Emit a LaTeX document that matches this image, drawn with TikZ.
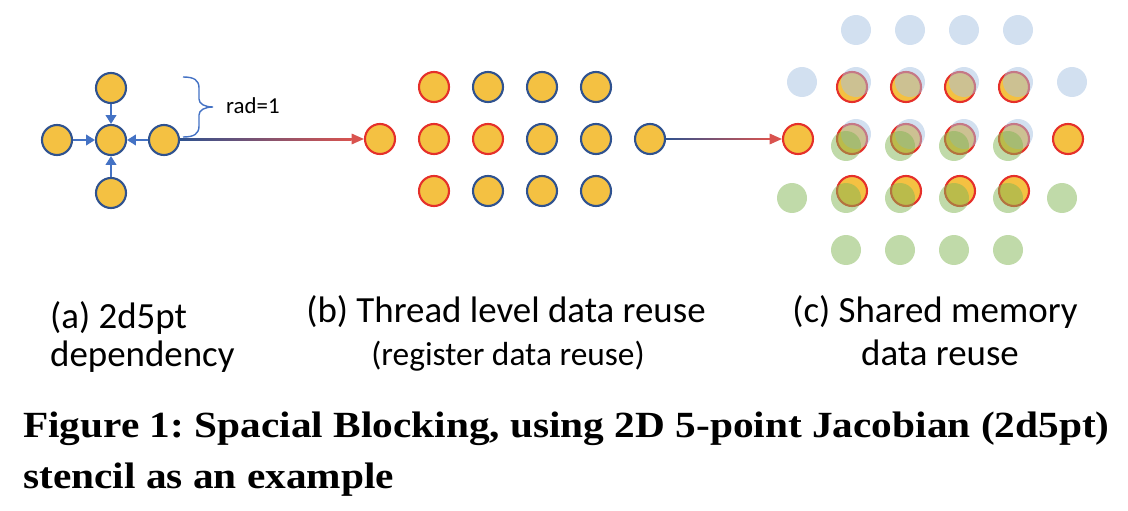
\documentclass[tikz,border=0pt]{standalone}
\usepackage{fontspec}
\setmainfont{Carlito}
\newfontfamily\fuenteleyenda{Liberation Serif}
\usetikzlibrary{arrows.meta,calc}
\frenchspacing

\definecolor{naranja}{HTML}{F4C142}
\definecolor{azulborde}{HTML}{2F528F}
\definecolor{rojoborde}{HTML}{E5302A}
\definecolor{azulflecha}{HTML}{4472C4}
\definecolor{rojoflecha}{HTML}{D9534F}
\definecolor{azulclaro}{HTML}{A6C1E2}
\definecolor{verdeclaro}{HTML}{82B654}

\tikzset{
  punto/.style={circle, draw=azulborde, fill=naranja, line width=1.2pt, minimum size=0.6cm, inner sep=0pt},
  sombra/.style={circle, fill=#1, fill opacity=0.5, minimum size=0.6cm, inner sep=0pt},
  flechaazul/.style={-{Triangle[length=5pt,width=6pt]}, azulflecha, line width=1pt},
  etiqueta/.style={font=\fontsize{21}{25}\selectfont, anchor=base},
  leyenda/.style={anchor=base west, font=\fuenteleyenda\bfseries\fontsize{21}{25}\selectfont},
}

\begin{document}
\begin{tikzpicture}[x=0.02cm, y=-0.02cm]
    \useasboundingbox (0,0) rectangle (1128,510);

    % (a) Dependencia 2d5pt
    \node[punto] (ac) at (111,140) {};
    \node[punto] (at) at (111,88) {};
    \node[punto] (ab) at (111,193) {};
    \node[punto] (al) at (57,140) {};
    \node[punto] (ar) at (164,140) {};
    \draw[flechaazul] (at) -- (ac);
    \draw[flechaazul] (ab) -- (ac);
    \draw[flechaazul] (al) -- (ac);
    \draw[flechaazul] (ar) -- (ac);

    % Llave del radio
    \coordinate (llave-sup) at (183,77);
    \coordinate (llave-inf) at (183,137);
    \draw[azulflecha, line width=0.8pt] (llave-sup) .. controls (194,77) and (199,80) .. (199,88) -- (199,99)
        .. controls (199,104) and (205,107) .. (213,107) .. controls (205,107) and (199,110) .. (199,115)
        -- (199,126) .. controls (199,134) and (194,137) .. (llave-inf);
    \node[anchor=west, font=\fontsize{13}{15}\selectfont] (radio) at (220,106) {rad=1};

    % (b) Reuso en registros
    \foreach \c/\borde in {2/rojoborde,3/azulborde,4/azulborde,5/azulborde}
        \node[punto, draw=\borde] (b1\c) at ({380+54*(\c-1)},87) {};
    \foreach \c/\borde in {1/rojoborde,2/rojoborde,3/rojoborde,4/azulborde,5/azulborde,6/azulborde}
        \node[punto, draw=\borde] (b2\c) at ({380+54*(\c-1)},139) {};
    \foreach \c/\borde in {2/rojoborde,3/azulborde,4/azulborde,5/azulborde}
        \node[punto, draw=\borde] (b3\c) at ({380+54*(\c-1)},191) {};

    % (c) Reuso en memoria compartida
    \foreach \c in {2,...,5} \node[punto, draw=rojoborde] (c1\c) at ({798+54*(\c-1)},87) {};
    \foreach \c in {1,...,6} \node[punto, draw=rojoborde] (c2\c) at ({798+54*(\c-1)},139) {};
    \foreach \c in {2,...,5} \node[punto, draw=rojoborde] (c3\c) at ({798+54*(\c-1)},191) {};
    % Vecinos de arriba (azul) y de abajo (verde)
    \foreach \c in {2,...,5} \node[sombra=azulclaro] (z1\c) at ({802+54*(\c-1)},30) {};
    \foreach \c in {1,...,6} \node[sombra=azulclaro] (z2\c) at ({802+54*(\c-1)},82) {};
    \foreach \c in {2,...,5} \node[sombra=azulclaro] (z3\c) at ({802+54*(\c-1)},134) {};
    \foreach \c in {2,...,5} \node[sombra=verdeclaro] (v1\c) at ({792+54*(\c-1)},146) {};
    \foreach \c in {1,...,6} \node[sombra=verdeclaro] (v2\c) at ({792+54*(\c-1)},198) {};
    \foreach \c in {2,...,5} \node[sombra=verdeclaro] (v3\c) at ({792+54*(\c-1)},250) {};

    % Conectores con degradado
    \shade[left color=azulborde, middle color=azulclaro!60, right color=rojoflecha]
        ($(ar.east)+(0,-0.5pt)$) rectangle ($(b21.west)+(-7pt,0.5pt)$);
    \draw[-{Triangle[length=7pt,width=6pt]}, rojoflecha, line width=0.8pt] ($(b21.west)+(-8pt,0)$) -- (b21.west);
    \shade[left color=azulborde, middle color=azulclaro!60, right color=rojoflecha]
        ($(b26.east)+(0,-0.5pt)$) rectangle ($(c21.west)+(-7pt,0.5pt)$);
    \draw[-{Triangle[length=7pt,width=6pt]}, rojoflecha, line width=0.8pt] ($(c21.west)+(-8pt,0)$) -- (c21.west);

    % Etiquetas
    \node[etiqueta, anchor=base west] (eta1) at (44,328) {(a) 2d5pt};
    \node[etiqueta, anchor=base west] (eta2) at (44,366) {dependency};
    \node[etiqueta] (etb1) at (506,322) {(b) Thread level data reuse};
    \node[etiqueta, font=\fontsize{19}{23}\selectfont] (etb2) at (508,365) {(register data reuse)};
    \node[etiqueta] (etc1) at (935,322) {(c) Shared memory};
    \node[etiqueta] (etc2) at (940,365) {data reuse};

    % Leyenda de la figura
    \node[leyenda] (ley1) at (17,437)
        {\scalebox{1.12}[1]{Figure 1: Spacial Blocking, using 2D 5-point Jacobian (2d5pt)}};
    \node[leyenda] (ley2) at (17,488)
        {\scalebox{1.12}[1]{stencil as an example}};

\end{tikzpicture}
\end{document}
